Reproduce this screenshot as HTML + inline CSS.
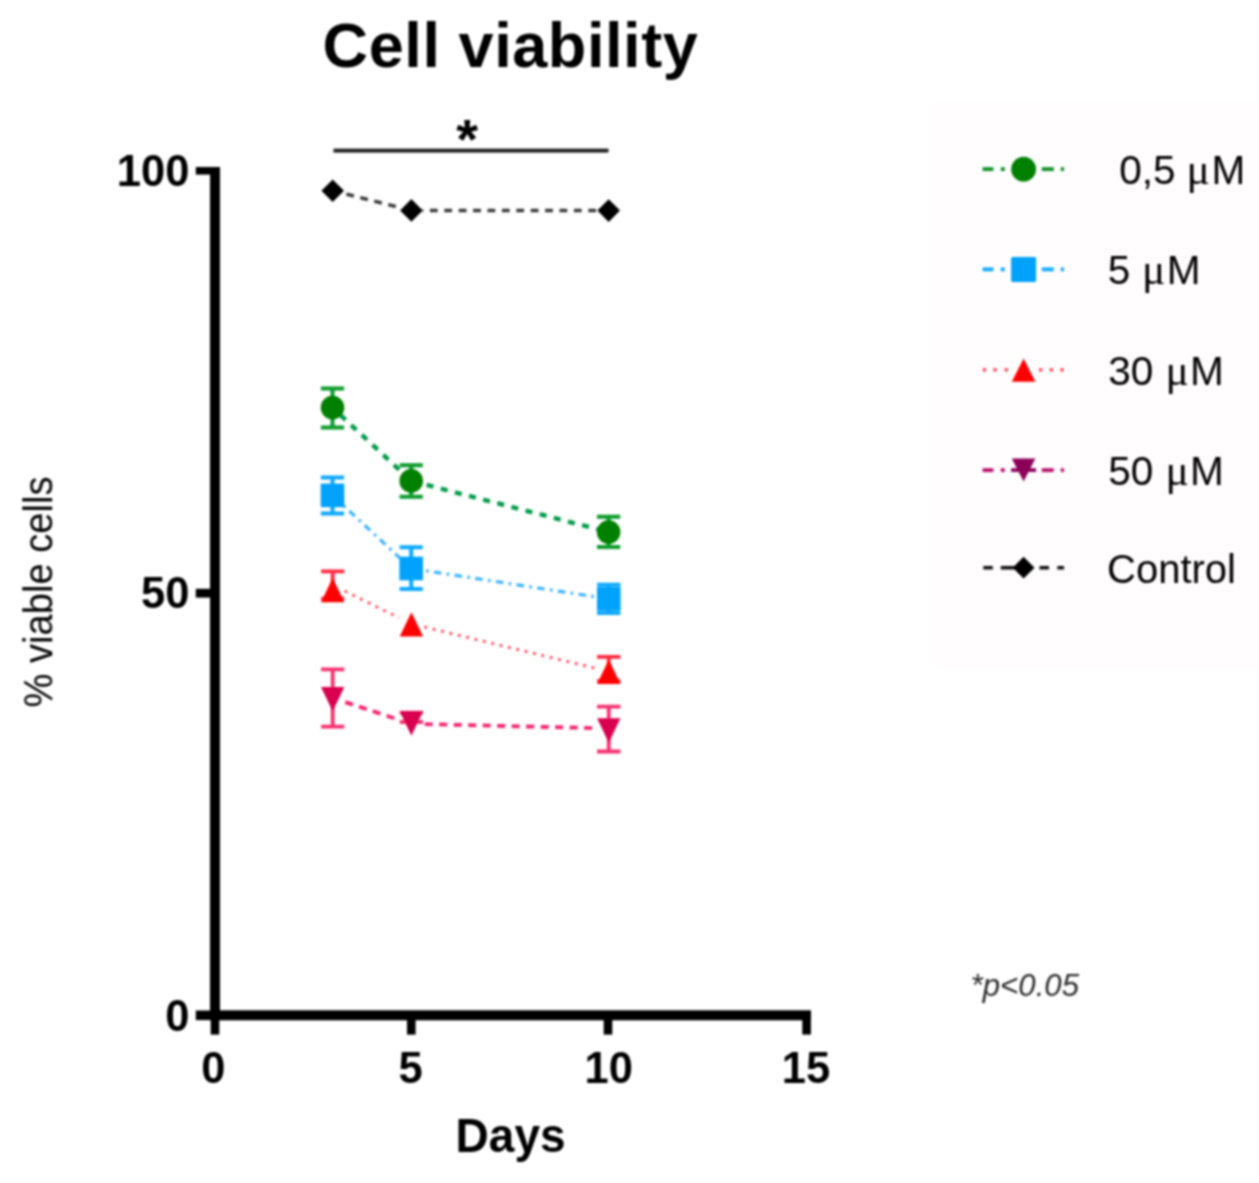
<!DOCTYPE html>
<html lang="en"><head><meta charset="utf-8"><title>Cell viability</title>
<style>html,body{margin:0;padding:0;background:#fff;}body{width:1259px;height:1183px;overflow:hidden;}svg{display:block;}text{font-family:"Liberation Sans",Arial,Helvetica,sans-serif;fill:#000;}.b{font-weight:bold;}.mu{font-family:"Liberation Serif","DejaVu Serif",serif;}</style></head><body>
<svg width="1259" height="1183" viewBox="0 0 1259 1183">
<defs><filter id="bl" x="-5%" y="-5%" width="110%" height="110%"><feGaussianBlur stdDeviation="0.8"/></filter></defs>
<rect x="0" y="0" width="1259" height="1183" fill="#ffffff"/>
<rect x="937" y="101.5" width="322" height="566" fill="#fffdfe"/>
<g filter="url(#bl)">
<text class="b" x="510.5" y="67.2" font-size="63" letter-spacing="0.58" text-anchor="middle">Cell viability</text>
<g fill="#000">
<rect x="210" y="167" width="10" height="853"/>
<rect x="210" y="1010.3" width="601" height="10"/>
<rect x="195.8" y="167.0" width="16" height="7.6"/>
<rect x="195.8" y="588.8" width="16" height="8.8"/>
<rect x="195.8" y="1010.5" width="16" height="9.6"/>
<rect x="210.7" y="1018" width="8.6" height="16.6"/>
<rect x="407.0" y="1018" width="8.6" height="16.6"/>
<rect x="603.7" y="1018" width="8.6" height="16.6"/>
<rect x="802.3" y="1018" width="8.6" height="16.6"/>
</g>
<text class="b" x="189.4" y="186.0" font-size="43.5" text-anchor="end">100</text>
<text class="b" x="189.4" y="608.4" font-size="43.5" text-anchor="end">50</text>
<text class="b" x="189.4" y="1030.8" font-size="43.5" text-anchor="end">0</text>
<text class="b" x="213.4" y="1082.6" font-size="43.5" text-anchor="middle">0</text>
<text class="b" x="410.5" y="1082.6" font-size="43.5" text-anchor="middle">5</text>
<text class="b" x="608.7" y="1082.6" font-size="43.5" text-anchor="middle">10</text>
<text class="b" x="806.0" y="1082.6" font-size="43.5" text-anchor="middle">15</text>
<text class="b" transform="translate(510.6 1152.2) scale(0.95 1)" font-size="48.5" text-anchor="middle">Days</text>
<text transform="translate(52.2 592) rotate(-90)" font-size="41" text-anchor="middle" textLength="231" lengthAdjust="spacingAndGlyphs">% viable cells</text>
<rect x="333.5" y="148.7" width="275" height="3.8" fill="#1a1a1a"/>
<text class="b" x="467.2" y="158" font-size="56" text-anchor="middle">*</text>
<text x="970.6" y="995.8" font-size="31.2" font-style="italic" style="fill:#2a2a2a">*p&lt;0.05</text>
<path d="M343.4 193.4L400.7 207.7" fill="none" stroke="#383838" stroke-width="3.5" stroke-dasharray="7.8 6.6" stroke-dashoffset="-3.0"/>
<path d="M422.4 210.4L597.7 210.6" fill="none" stroke="#383838" stroke-width="3.5" stroke-dasharray="7.8 6.6" stroke-dashoffset="-7.5"/>
<path d="M321.4 190.7L332.7 179.4L344.0 190.7L332.7 202.0Z" fill="#000"/>
<path d="M400.1 210.4L411.4 199.1L422.7 210.4L411.4 221.7Z" fill="#000"/>
<path d="M597.4 210.6L608.7 199.3L620.0 210.6L608.7 221.9Z" fill="#000"/>
<path d="M340.5 415.1L403.2 473.4" fill="none" stroke="#069a48" stroke-width="4.4" stroke-dasharray="7 7.6" stroke-dashoffset="0.0"/>
<path d="M421.8 483.7L598.0 529.3" fill="none" stroke="#069a48" stroke-width="4.4" stroke-dasharray="7 7.6" stroke-dashoffset="-5.0"/>
<path d="M320.9 388.5H344.1M320.9 427.5H344.1M332.5 388.5V427.5" stroke="#079a2c" stroke-width="4.0" fill="none"/>
<circle cx="332.5" cy="407.6" r="11.8" fill="#008000"/>
<path d="M399.6 465.3H422.8M399.6 496.7H422.8M411.2 465.3V496.7" stroke="#079a2c" stroke-width="4.0" fill="none"/>
<circle cx="411.2" cy="480.9" r="11.8" fill="#008000"/>
<path d="M597.0 516.8H620.2M597.0 546.9H620.2M608.6 516.8V546.9" stroke="#079a2c" stroke-width="4.0" fill="none"/>
<circle cx="608.6" cy="532.1" r="11.8" fill="#008000"/>
<path d="M343.5 505.6L400.2 558.3" fill="none" stroke="#3db5fc" stroke-width="3.2" stroke-dasharray="2.6 5.4 7.5 5.4" stroke-dashoffset="0.0"/>
<path d="M426.0 570.8L594.0 596.6" fill="none" stroke="#3db5fc" stroke-width="3.2" stroke-dasharray="2.6 5.4 7.5 5.4" stroke-dashoffset="0.0"/>
<path d="M320.9 477.5H344.1M320.9 513.4H344.1M332.5 477.5V513.4" stroke="#0fa8ff" stroke-width="4.0" fill="none"/>
<rect x="320.7" y="483.6" width="23.6" height="23.6" fill="#00a2fb"/>
<path d="M399.6 547.2H422.8M399.6 589.1H422.8M411.2 547.2V589.1" stroke="#0fa8ff" stroke-width="4.0" fill="none"/>
<rect x="399.4" y="556.7" width="23.6" height="23.6" fill="#00a2fb"/>
<path d="M597.1 584.8H620.4M597.1 613.1H620.4M608.8 584.8V613.1" stroke="#0fa8ff" stroke-width="4.0" fill="none"/>
<rect x="597.0" y="587.1" width="23.6" height="23.6" fill="#00a2fb"/>
<path d="M344.6 591.0L399.1 617.8" fill="none" stroke="#ff5266" stroke-width="2.9" stroke-dasharray="2.9 5.7" stroke-dashoffset="0.0"/>
<path d="M424.3 627.0L595.7 668.3" fill="none" stroke="#ff5266" stroke-width="2.9" stroke-dasharray="2.9 5.7" stroke-dashoffset="0.0"/>
<path d="M321.1 571.3H344.3M321.1 598.6H344.3M332.7 571.3V598.6" stroke="#ff2a40" stroke-width="3.8" fill="none"/>
<path d="M332.7 577.8L344.4 602.2L321.0 602.2Z" fill="#ff0000"/>
<path d="M411.4 612.2L423.1 636.6L399.7 636.6Z" fill="#ff0000"/>
<path d="M597.1 656.8H620.4M597.1 681.0H620.4M608.8 656.8V681.0" stroke="#ff2a40" stroke-width="3.8" fill="none"/>
<path d="M608.8 659.6L620.5 684.0L597.1 684.0Z" fill="#ff0000"/>
<path d="M345.3 702.1L398.4 719.6" fill="none" stroke="#f4246e" stroke-width="3.8" stroke-dasharray="8 6.5" stroke-dashoffset="0.0"/>
<path d="M424.7 724.1L595.3 728.1" fill="none" stroke="#f4246e" stroke-width="3.8" stroke-dasharray="8 6.5" stroke-dashoffset="0.0"/>
<path d="M321.1 669.3H344.3M321.1 726.6H344.3M332.7 669.3V726.6" stroke="#f5306f" stroke-width="3.8" fill="none"/>
<path d="M321.0 686.9L344.4 686.9L332.7 711.3Z" fill="#d8004f"/>
<path d="M399.8 712.6H423.0M399.8 722.0H423.0M411.4 712.6V722.0" stroke="#f5306f" stroke-width="3.8" fill="none"/>
<path d="M399.7 711.3L423.1 711.3L411.4 735.7Z" fill="#d8004f"/>
<path d="M597.1 706.6H620.4M597.1 751.5H620.4M608.8 706.6V751.5" stroke="#f5306f" stroke-width="3.8" fill="none"/>
<path d="M597.1 718.3L620.5 718.3L608.8 742.7Z" fill="#d8004f"/>
<path d="M982.6 169.2H993.4M1000.8 169.2H1004.8M1041.8 169.2H1053.8M1060.8 169.2H1064" stroke="#078c24" stroke-width="3.7" fill="none"/>
<circle cx="1023.6" cy="169.2" r="12.4" fill="#008000"/>
<path d="M982.6 269.4H993.4M1000.8 269.4H1004.8M1041.8 269.4H1053.8M1060.8 269.4H1064" stroke="#0aa8ff" stroke-width="3.7" fill="none"/>
<rect x="1011.1" y="256.9" width="25" height="25" rx="1.5" fill="#00a2fb"/>
<path d="M982.7 369.9h3.3M993.4 369.9h3.3M1004.6 369.9h3.3M1039.0 369.9h3.3M1049.7 369.9h3.3M1060.4 369.9h3.3" stroke="#ff4455" stroke-width="3.3" fill="none"/>
<path d="M1023.6 358.5L1035.4 381.8L1011.8 381.8Z" fill="#ff0000"/>
<path d="M982.6 470.1H993.4M1000.8 470.1H1004.8M1041.8 470.1H1053.8M1060.8 470.1H1064" stroke="#b8106a" stroke-width="3.7" fill="none"/>
<path d="M1011.1 470.1H1036.1" stroke="#8c005a" stroke-width="3.7"/>
<path d="M1011.8 458.4L1035.4 458.4L1023.6 481.6Z" fill="#8c005a"/>
<path d="M983.3 567.7H992.8M1000.8 567.7H1014M1039.5 567.7H1049M1057.3 567.7H1064" stroke="#111" stroke-width="3.6" fill="none"/>
<path d="M1012.7 567.7L1023.6 556.8L1034.5 567.7L1023.6 578.6Z" fill="#000"/>
<text x="1119.2" y="184.1" font-size="40.6">0,5 <tspan class="mu" x="1186.4" font-size="43.5">μ</tspan><tspan x="1211.5">M</tspan></text>
<text x="1107.8" y="284.3" font-size="40.6">5 <tspan class="mu" x="1142.0" font-size="43.5">μ</tspan><tspan x="1166.8">M</tspan></text>
<text x="1108.2" y="384.7" font-size="40.6">30 <tspan class="mu" x="1165.5" font-size="43.5">μ</tspan><tspan x="1190.0">M</tspan></text>
<text x="1108.2" y="484.8" font-size="40.6">50 <tspan class="mu" x="1165.5" font-size="43.5">μ</tspan><tspan x="1190.0">M</tspan></text>
<text x="1107" y="583.1" font-size="40">Control</text>
</g></svg></body></html>
